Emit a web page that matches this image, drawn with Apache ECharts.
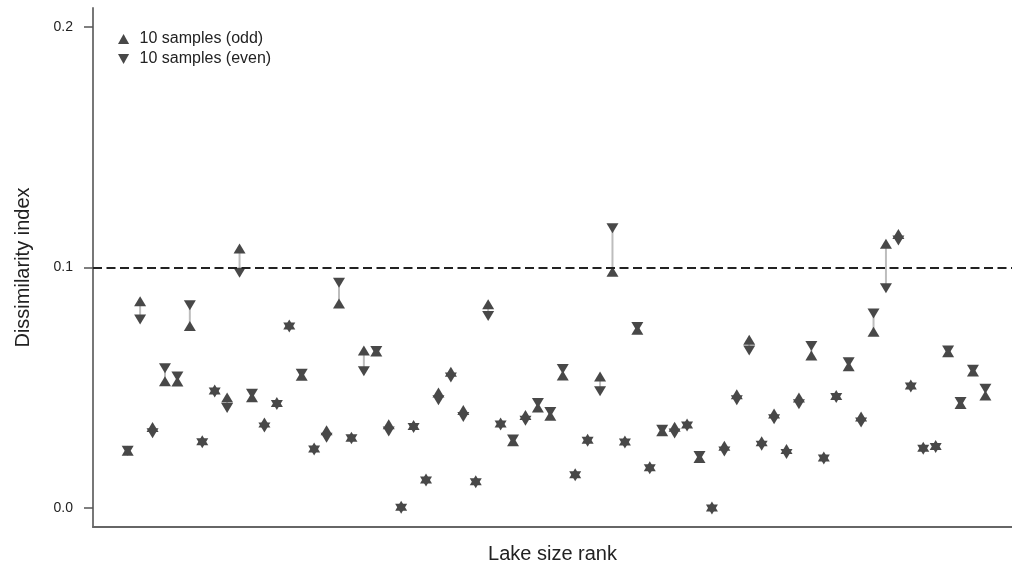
<!DOCTYPE html>
<html>
<head>
<meta charset="utf-8">
<script src="https://cdn.jsdelivr.net/npm/echarts@6/dist/echarts.min.js"></script>
<style>
html,body{margin:0;padding:0;background:#fff;}
#chart{width:1012px;height:569px;}
</style>
</head>
<body>
<div id="chart"></div>
<script>
// Lake size rank 1..70
var lakeRank = [];
for (var i = 1; i <= 70; i++) lakeRank.push(i);

// Dissimilarity index, 10 samples (odd)
var oddValues = [
  0.0232, 0.0854, 0.0331, 0.0521, 0.0520, 0.0751, 0.0276, 0.0487, 0.0453, 0.1073,
  0.0454, 0.0349, 0.0435, 0.0757, 0.0544, 0.0245, 0.0317, 0.0845, 0.0290, 0.0649,
  0.0645, 0.0342, 0.0003, 0.0339, 0.0116, 0.0474, 0.0561, 0.0401, 0.0109, 0.0841,
  0.0349, 0.0271, 0.0381, 0.0412, 0.0378, 0.0545, 0.0138, 0.0282, 0.0541, 0.0977,
  0.0275, 0.0735, 0.0167, 0.0313, 0.0332, 0.0345, 0.0202, 0.0000, 0.0253, 0.0467,
  0.0694, 0.0271, 0.0387, 0.0239, 0.0453, 0.0628, 0.0208, 0.0464, 0.0583, 0.0374,
  0.0727, 0.1093, 0.1134, 0.0508, 0.0249, 0.0256, 0.0642, 0.0426, 0.0562, 0.0462
];
// Dissimilarity index, 10 samples (even)
var evenValues = [
  0.0244, 0.0790, 0.0317, 0.0588, 0.0553, 0.0850, 0.0276, 0.0487, 0.0422, 0.0985,
  0.0482, 0.0341, 0.0435, 0.0757, 0.0565, 0.0245, 0.0299, 0.0943, 0.0292, 0.0575,
  0.0659, 0.0324, 0.0003, 0.0339, 0.0116, 0.0454, 0.0549, 0.0385, 0.0109, 0.0805,
  0.0349, 0.0291, 0.0369, 0.0443, 0.0406, 0.0585, 0.0138, 0.0282, 0.0492, 0.1170,
  0.0275, 0.0759, 0.0167, 0.0332, 0.0316, 0.0345, 0.0223, 0.0000, 0.0241, 0.0455,
  0.0661, 0.0265, 0.0375, 0.0231, 0.0438, 0.0680, 0.0208, 0.0464, 0.0613, 0.0362,
  0.0815, 0.0920, 0.1119, 0.0508, 0.0249, 0.0256, 0.0661, 0.0447, 0.0581, 0.0502
];
var yTicks = [0, 0.1, 0.2];
var thresholdValue = 0.1;
var seriesNames = ['10 samples (odd)', '10 samples (even)'];

var downTri = 'path://M0,0L20,0L10,18Z';
var upTri = 'path://M10,0L20,18L0,18Z';

var oddData = lakeRank.map(function (r, i) { return [r, oddValues[i]]; });
var evenData = lakeRank.map(function (r, i) { return [r, evenValues[i]]; });
var pairData = lakeRank.map(function (r, i) { return [r, oddValues[i], evenValues[i]]; });

var chart = echarts.init(document.getElementById('chart'), null, {renderer: 'canvas'});
var font = '"Liberation Sans", Arial, sans-serif';
var markColor = '#484848';
chart.setOption({
  animation: false,
  backgroundColor: '#ffffff',
  textStyle: {fontFamily: font},
  grid: {left: 93, right: 0, top: 8, bottom: 41},
  legend: {
    orient: 'vertical',
    left: 113,
    top: 26,
    itemWidth: 12,
    itemHeight: 10,
    itemGap: 4,
    textStyle: {fontSize: 16, color: '#222', fontFamily: font, padding: [0, 0, 0, 5]},
    data: [
      {name: seriesNames[0], icon: upTri, itemStyle: {color: markColor}},
      {name: seriesNames[1], icon: downTri, itemStyle: {color: markColor}}
    ]
  },
  xAxis: {
    type: 'value',
    min: -1.79,
    max: 72.14,
    name: 'Lake size rank',
    nameLocation: 'middle',
    nameGap: 17,
    nameTextStyle: {fontSize: 20, color: '#222', fontFamily: font},
    axisLine: {show: true, onZero: false, lineStyle: {color: '#666', width: 2}},
    axisTick: {show: false},
    axisLabel: {show: false},
    splitLine: {show: false}
  },
  yAxis: {
    type: 'value',
    min: -0.0079,
    max: 0.208,
    name: 'Dissimilarity index',
    nameLocation: 'middle',
    nameGap: 60,
    nameTextStyle: {fontSize: 20, color: '#222', fontFamily: font},
    axisLine: {show: true, onZero: false, lineStyle: {color: '#777', width: 2}},
    axisTick: {show: true, length: 9, customValues: yTicks, lineStyle: {color: '#555', width: 1.5}},
    axisLabel: {
      show: true, margin: 20, fontSize: 14, color: '#222', fontFamily: font,
      customValues: yTicks,
      formatter: function (v) { return v.toFixed(1); }
    },
    splitLine: {show: false}
  },
  series: [
    {
      type: 'custom',
      name: 'pairs',
      silent: true,
      z: 1,
      data: pairData,
      encode: {x: 0, y: [1, 2]},
      renderItem: function (params, api) {
        var p1 = api.coord([api.value(0), api.value(1)]);
        var p2 = api.coord([api.value(0), api.value(2)]);
        return {
          type: 'line',
          shape: {x1: p1[0], y1: p1[1], x2: p2[0], y2: p2[1]},
          style: {stroke: '#bdbdbd', lineWidth: 2}
        };
      }
    },
    {
      type: 'scatter',
      name: seriesNames[0],
      z: 3,
      symbol: upTri,
      symbolSize: [12, 10],
      symbolOffset: [0, -1.5],
      itemStyle: {color: markColor, opacity: 1},
      data: oddData,
      markLine: {
        silent: true,
        symbol: 'none',
        label: {show: false},
        lineStyle: {color: '#222', type: [9, 4.5], width: 2.2},
        data: [{yAxis: thresholdValue}]
      }
    },
    {
      type: 'scatter',
      name: seriesNames[1],
      z: 3,
      symbol: downTri,
      symbolSize: [12, 10],
      symbolOffset: [0, 1.5],
      itemStyle: {color: markColor, opacity: 1},
      data: evenData
    }
  ]
});
</script>
</body>
</html>
